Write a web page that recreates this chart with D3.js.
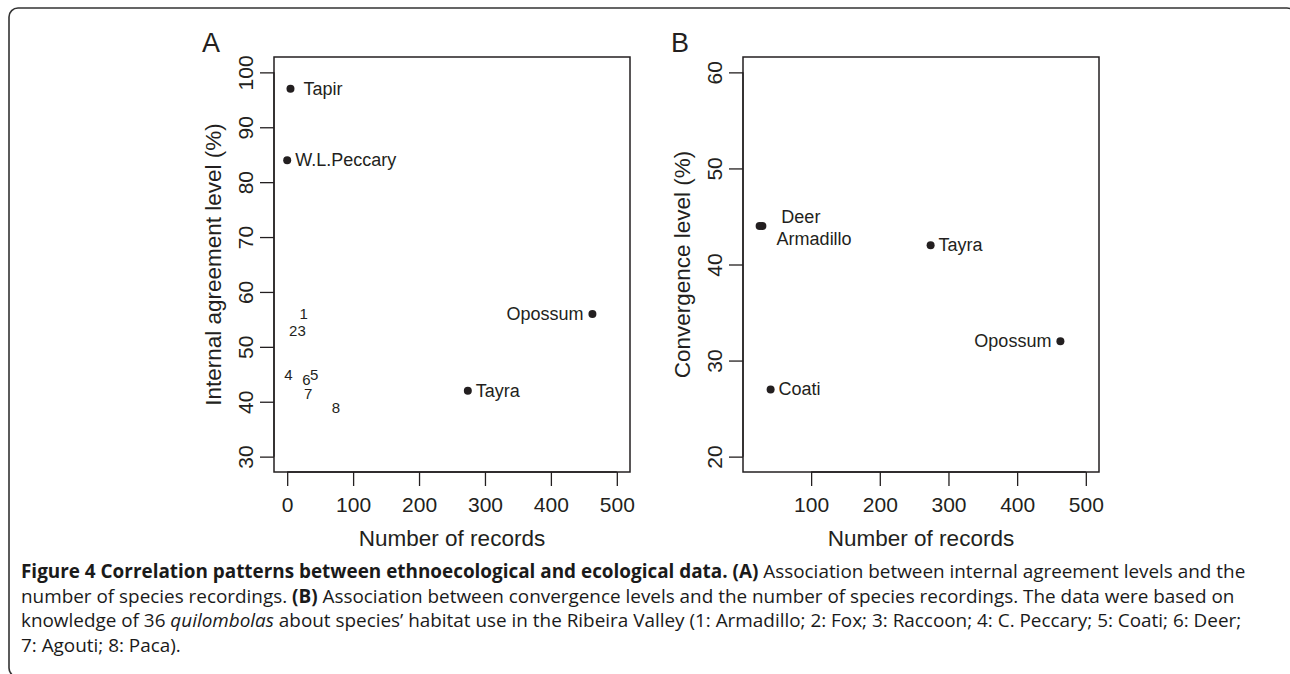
<!DOCTYPE html>
<html>
<head>
<meta charset="utf-8">
<script src="https://cdn.jsdelivr.net/npm/d3@7"></script>
<style>
  html, body { margin: 0; padding: 0; background: #fff; }
  svg { display: block; }
</style>
</head>
<body>
<svg id="chart" width="1290" height="674"></svg>
<script>
// ---------------- data ----------------
// Panel A: internal agreement level (%) vs number of records
const namedA = ["Tapir", "W.L.Peccary", "Opossum", "Tayra"];
const namedARecords = [5, 0, 463, 274];
const namedAAgreement = [97, 84, 56, 42];
const namedASide = ["right-far", "right", "left", "right"];

const numberedALabels = ["1", "2", "3", "4", "5", "6", "7", "8"];
const numberedARecords = [25, 9, 22, 2, 41, 29, 32, 74];
const numberedAAgreement = [56, 53, 53, 45, 45, 44, 41.5, 39];

// Panel B: convergence level (%) vs number of records
const namedB = ["Deer", "Armadillo", "Tayra", "Opossum", "Coati"];
const namedBRecords = [29, 25, 274, 463, 41];
const namedBConvergence = [44, 44, 42, 32, 27];
const namedBSide = ["right-up", "right-down", "right", "left", "right"];

const xTicksA = [0, 100, 200, 300, 400, 500];
const yTicksA = [30, 40, 50, 60, 70, 80, 90, 100];
const xTicksB = [100, 200, 300, 400, 500];
const yTicksB = [20, 30, 40, 50, 60];

const xLimA = [0, 500], yLimA = [30, 100];
const xLimB = [20, 500], yLimB = [20, 60];

// ---------------- drawing ----------------
const svg = d3.select("#chart");
const FONT = "'Liberation Sans', Arial, Helvetica, sans-serif";
const INK = "#231f20";

// outer rounded frame
svg.append("rect")
  .attr("x", 9).attr("y", 8).attr("width", 1287).attr("height", 669)
  .attr("rx", 9).attr("ry", 9)
  .attr("fill", "none").attr("stroke", "#333").attr("stroke-width", 1.6);

// R-style 4% axis extension
function ext(lim) { const d = (lim[1] - lim[0]) * 0.04; return [lim[0] - d, lim[1] + d]; }

function panel(opts) {
  const { left, right, top, bottom, xLim, yLim, xTicks, yTicks, letter, yTitle } = opts;
  const x = d3.scaleLinear().domain(ext(xLim)).range([left, right]);
  const y = d3.scaleLinear().domain(ext(yLim)).range([bottom, top]);
  const g = svg.append("g");

  // x axis
  const ax = g.append("g").attr("transform", `translate(0,${bottom})`)
    .call(d3.axisBottom(x).tickValues(xTicks).tickSize(14).tickSizeOuter(0).tickFormat(d3.format("d")));
  ax.select(".domain").remove();
  ax.selectAll(".tick line").attr("stroke", INK).attr("stroke-width", 1.3);
  ax.selectAll(".tick text").attr("y", 40).attr("dy", 0)
    .attr("font-family", FONT).attr("font-size", 21).attr("fill", INK);
  g.append("line")
    .attr("x1", x(xTicks[0])).attr("x2", x(xTicks[xTicks.length - 1]))
    .attr("y1", bottom).attr("y2", bottom)
    .attr("stroke", INK).attr("stroke-width", 1.3);

  // y axis
  const ay = g.append("g").attr("transform", `translate(${left},0)`)
    .call(d3.axisLeft(y).tickValues(yTicks).tickSize(14).tickSizeOuter(0).tickFormat(d3.format("d")));
  ay.select(".domain").remove();
  ay.selectAll(".tick line").attr("stroke", INK).attr("stroke-width", 1.3);
  ay.selectAll(".tick text")
    .attr("transform", "rotate(-90)")
    .attr("x", 0).attr("y", -21).attr("dy", 0)
    .attr("text-anchor", "middle")
    .attr("font-family", FONT).attr("font-size", 21).attr("fill", INK);
  g.append("line")
    .attr("x1", left).attr("x2", left)
    .attr("y1", y(yTicks[0])).attr("y2", y(yTicks[yTicks.length - 1]))
    .attr("stroke", INK).attr("stroke-width", 1.3);

  // box
  g.append("rect")
    .attr("x", left).attr("y", top).attr("width", right - left).attr("height", bottom - top)
    .attr("fill", "none").attr("stroke", INK).attr("stroke-width", 1.5);

  // titles
  g.append("text")
    .attr("x", (left + right) / 2).attr("y", bottom + 74)
    .attr("text-anchor", "middle")
    .attr("font-family", FONT).attr("font-size", 22.5).attr("fill", INK)
    .text("Number of records");
  g.append("text")
    .attr("transform", `translate(${left - 53},${(top + bottom) / 2}) rotate(-90)`)
    .attr("text-anchor", "middle")
    .attr("font-family", FONT).attr("font-size", 22.5).attr("fill", INK)
    .text(yTitle);
  g.append("text")
    .attr("x", left - 72).attr("y", top - 5)
    .attr("font-family", FONT).attr("font-size", 27).attr("fill", INK)
    .text(letter);

  return { g, x, y };
}

const DX = { "left": -9, "right": 8, "right-far": 13, "right-up": 19, "right-down": 17 };
const DY = { "left": 6, "right": 6, "right-far": 6, "right-up": -3, "right-down": 19 };

function namedPoints(p, names, xs, ys, sides) {
  const data = names.map((n, i) => ({ n, x: xs[i], y: ys[i], side: sides[i] }));
  p.g.selectAll("circle.pt").data(data).join("circle")
    .attr("class", "pt")
    .attr("cx", d => p.x(d.x)).attr("cy", d => p.y(d.y)).attr("r", 4)
    .attr("fill", INK);
  p.g.selectAll("text.lbl").data(data).join("text")
    .attr("class", "lbl")
    .attr("x", d => p.x(d.x) + DX[d.side])
    .attr("y", d => p.y(d.y) + DY[d.side])
    .attr("text-anchor", d => d.side === "left" ? "end" : "start")
    .attr("font-family", FONT).attr("font-size", 18).attr("fill", INK)
    .text(d => d.n);
}

const pA = panel({ left: 274, right: 630, top: 57, bottom: 472, xLim: xLimA, yLim: yLimA,
  xTicks: xTicksA, yTicks: yTicksA, letter: "A", yTitle: "Internal agreement level (%)" });
const pB = panel({ left: 743, right: 1099, top: 57, bottom: 472, xLim: xLimB, yLim: yLimB,
  xTicks: xTicksB, yTicks: yTicksB, letter: "B", yTitle: "Convergence level (%)" });

namedPoints(pA, namedA, namedARecords, namedAAgreement, namedASide);
namedPoints(pB, namedB, namedBRecords, namedBConvergence, namedBSide);

// numbered species in panel A (text drawn at the point)
pA.g.selectAll("text.num")
  .data(numberedALabels.map((l, i) => ({ l, x: numberedARecords[i], y: numberedAAgreement[i] })))
  .join("text")
  .attr("class", "num")
  .attr("x", d => pA.x(d.x)).attr("y", d => pA.y(d.y) + 5.3)
  .attr("text-anchor", "middle")
  .attr("font-family", FONT).attr("font-size", 15).attr("fill", INK)
  .text(d => d.l);

// ---------------- caption ----------------
const CAP = "'Open Sans', 'Noto Sans', sans-serif";
const capLines = [
  [["b", "Figure 4 Correlation patterns between ethnoecological and ecological data. (A)"], ["n", " Association between internal agreement levels and the"]],
  [["n", "number of species recordings. "], ["b", "(B)"], ["n", " Association between convergence levels and the number of species recordings. The data were based on"]],
  [["n", "knowledge of 36 "], ["i", "quilombolas"], ["n", " about species\u2019 habitat use in the Ribeira Valley (1: Armadillo; 2: Fox; 3: Raccoon; 4: C. Peccary; 5: Coati; 6: Deer;"]],
  [["n", "7: Agouti; 8: Paca)."]]
];
const cap = svg.append("g").attr("font-family", CAP).attr("font-size", 18.9).attr("fill", "#1a1a1a");
capLines.forEach((line, i) => {
  const t = cap.append("text").attr("x", 21).attr("y", 578 + i * 24.5);
  line.forEach(([s, str]) => {
    const ts = t.append("tspan").text(str);
    if (s === "b") ts.attr("font-weight", "bold");
    if (s === "i") ts.attr("font-style", "italic");
  });
});
</script>
</body>
</html>
